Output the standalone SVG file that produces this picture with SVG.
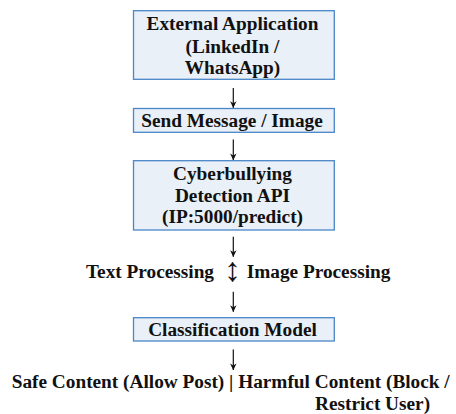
<svg xmlns="http://www.w3.org/2000/svg" width="456" height="414" viewBox="0 0 456 414">
<defs>
<marker id="ah" markerWidth="8" markerHeight="8" refX="7.5" refY="4" orient="auto" markerUnits="userSpaceOnUse" viewBox="0 0 8 8">
<path d="M1,0.8 L7.8,4 L1,7.2 L3,4 Z" fill="#111"/>
</marker>
<style>
.box{fill:#e9f0f8;stroke:#4a86c8;stroke-width:1.3}
.t{font-family:"Liberation Serif","Times New Roman",serif;font-weight:bold;font-size:19.3px;fill:#111}
.c{text-anchor:middle}
.conn{stroke:#111;stroke-width:1.2;fill:none;marker-end:url(#ah)}
</style>
</defs>
<rect width="456" height="414" fill="#fff"/>
<g id="external-app">
<rect class="box" x="133.5" y="10.7" width="200.8" height="68.6"/>
<text class="t c" x="232.5" y="30">External Application</text>
<text class="t c" x="232.5" y="52.5">(LinkedIn /</text>
<text class="t c" x="232.5" y="74">WhatsApp)</text>
</g>
<g id="send-message">
<rect class="box" x="133.5" y="108.5" width="200.8" height="23.8"/>
<text class="t c" x="232" y="126.7">Send Message / Image</text>
</g>
<g id="detection-api">
<rect class="box" x="133.5" y="160.7" width="200.8" height="69.3"/>
<text class="t c" x="232.5" y="180">Cyberbullying</text>
<text class="t c" x="232.5" y="201.7">Detection API</text>
<text class="t c" x="232.5" y="222.7">(IP:5000/predict)</text>
</g>
<g id="processing">
<text class="t" x="86" y="278.3">Text Processing</text>
<text class="t c" x="232.5" y="281" style="font-size:34px;font-weight:normal">↕</text>
<text class="t" x="246.7" y="278.3">Image Processing</text>
</g>
<g id="classification-model">
<rect class="box" x="133.5" y="317.7" width="200.8" height="23.3"/>
<text class="t c" x="232.5" y="335.7">Classification Model</text>
</g>
<g id="outcome">
<text class="t" x="11.7" y="388.3">Safe Content (Allow Post) | Harmful Content (Block /</text>
<text class="t" x="315" y="410">Restrict User)</text>
</g>
<g id="connectors">
<line class="conn" x1="233.3" y1="88" x2="233.3" y2="107.7"/>
<line class="conn" x1="233.3" y1="139.5" x2="233.3" y2="160"/>
<line class="conn" x1="233.3" y1="236.7" x2="233.3" y2="256.7"/>
<line class="conn" x1="233.3" y1="291.7" x2="233.3" y2="311.7"/>
<line class="conn" x1="233.3" y1="349.5" x2="233.3" y2="370"/>
</g>
</svg>
